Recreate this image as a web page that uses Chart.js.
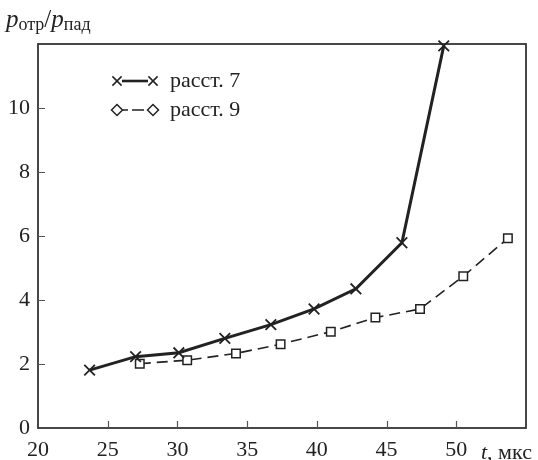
<!DOCTYPE html>
<html>
<head>
<meta charset="utf-8">
<script src="https://cdn.jsdelivr.net/npm/chart.js@4/dist/chart.umd.min.js"></script>
<style>
  html, body { margin: 0; padding: 0; background: #fff; }
  #box { width: 538px; height: 460px; }
</style>
</head>
<body>
<div id="box"><canvas id="chart"></canvas></div>
<script>
// t, мкс  и  p_отр/p_пад
const tRasst7 = [23.7, 27.0, 30.1, 33.4, 36.7, 39.8, 42.8, 46.1, 49.1];
const pRasst7 = [1.81, 2.23, 2.35, 2.80, 3.23, 3.72, 4.35, 5.79, 11.94];

const tRasst9 = [27.3, 30.7, 34.2, 37.4, 41.0, 44.2, 47.4, 50.5, 53.7];
const pRasst9 = [2.01, 2.12, 2.33, 2.62, 3.01, 3.45, 3.72, 4.74, 5.93];

const seriesNames = ["расст. 7", "расст. 9"];
const xTickValues = [20, 25, 30, 35, 40, 45, 50];
const yTickValues = [0, 2, 4, 6, 8, 10];

const INK = "#222";
const SERIF = '"Liberation Serif", "DejaVu Serif", serif';

const pairs = (xs, ys) => xs.map((x, i) => ({ x: x, y: ys[i] }));

// рамка, внутренние засечки, подписи осей и легенда
const decor = {
    id: "decor",
    beforeDatasetsDraw(chart) {
        const { ctx, chartArea: a, scales: { x, y } } = chart;
        ctx.save();
        ctx.strokeStyle = "#333";
        ctx.lineWidth = 1.8;
        ctx.strokeRect(a.left, a.top, a.right - a.left, a.bottom - a.top);

        ctx.lineWidth = 1.2;
        ctx.strokeStyle = "#555";
        ctx.beginPath();
        xTickValues.slice(1).forEach(v => {
            const px = Math.round(x.getPixelForValue(v)) + 0.5;
            ctx.moveTo(px, a.bottom);
            ctx.lineTo(px, a.bottom - 7);
        });
        yTickValues.slice(1).forEach(v => {
            const py = Math.round(y.getPixelForValue(v)) + 0.5;
            ctx.moveTo(a.left, py);
            ctx.lineTo(a.left + 7, py);
        });
        ctx.stroke();
        ctx.restore();
    },
    afterDraw(chart) {
        const { ctx } = chart;
        ctx.save();
        ctx.fillStyle = INK;
        ctx.textBaseline = "alphabetic";

        // p_отр / p_пад
        let cx = 6;
        ctx.font = "italic 25px " + SERIF;
        ctx.fillText("p", cx, 27);
        cx += ctx.measureText("p").width;
        ctx.font = "18px " + SERIF;
        ctx.fillText("отр", cx, 30);
        cx += ctx.measureText("отр").width;
        ctx.font = "25px " + SERIF;
        ctx.fillText("/", cx, 27);
        cx += ctx.measureText("/").width;
        ctx.font = "italic 25px " + SERIF;
        ctx.fillText("p", cx, 27);
        cx += ctx.measureText("p").width;
        ctx.font = "18px " + SERIF;
        ctx.fillText("пад", cx, 30);

        // t, мкс
        ctx.font = "italic 22px " + SERIF;
        ctx.fillText("t", 481, 459);
        const tw = ctx.measureText("t").width;
        ctx.font = "22px " + SERIF;
        ctx.fillText(", мкс", 481 + tw, 459);

        // легенда
        const rows = [
            { y: 81, style: "crossRot", dash: [], width: 2.6, r: 6.5 },
            { y: 110, style: "rectRot", dash: [6, 4, 12, 4], width: 1.5, r: 5.5 }
        ];
        rows.forEach((row, i) => {
            ctx.strokeStyle = INK;
            ctx.lineWidth = row.width;
            ctx.setLineDash(row.dash);
            ctx.beginPath();
            ctx.moveTo(122, row.y);
            ctx.lineTo(148, row.y);
            ctx.stroke();
            ctx.setLineDash([]);
            const opts = { pointStyle: row.style, radius: row.r, borderWidth: 1.5 };
            ctx.fillStyle = "#fff";
            ctx.lineWidth = 1.5;
            Chart.helpers.drawPoint(ctx, opts, 117, row.y);
            Chart.helpers.drawPoint(ctx, opts, 153, row.y);
            ctx.fillStyle = INK;
            ctx.font = "22px " + SERIF;
            ctx.fillText(seriesNames[i], 170, row.y + 6);
        });
        ctx.restore();
    }
};

new Chart(document.getElementById("chart"), {
    type: "line",
    data: {
        datasets: [
            {
                label: seriesNames[0],
                data: pairs(tRasst7, pRasst7),
                borderColor: INK,
                borderWidth: 3,
                pointStyle: "crossRot",
                pointRadius: 7.5,
                pointBorderWidth: 1.8,
                pointBorderColor: INK,
                pointBackgroundColor: "#fff",
                tension: 0,
                clip: false
            },
            {
                label: seriesNames[1],
                data: pairs(tRasst9, pRasst9),
                borderColor: INK,
                borderWidth: 1.6,
                borderDash: [11, 6],
                pointStyle: "rect",
                pointRadius: 6,
                pointBorderWidth: 1.5,
                pointBorderColor: INK,
                pointBackgroundColor: "#fff",
                tension: 0,
                clip: false
            }
        ]
    },
    options: {
        responsive: true,
        maintainAspectRatio: false,
        animation: false,
        devicePixelRatio: 1,
        layout: { padding: { top: 44, right: 12, left: 0, bottom: 0 } },
        plugins: {
            legend: { display: false },
            tooltip: { enabled: false }
        },
        scales: {
            x: {
                type: "linear",
                min: 20,
                max: 55,
                afterFit: s => { s.height = 32; },
                afterBuildTicks: s => { s.ticks = xTickValues.map(v => ({ value: v })); },
                grid: { display: false, drawTicks: false },
                border: { display: false },
                ticks: {
                    color: INK,
                    font: { family: SERIF, size: 22 },
                    padding: 9,
                    maxRotation: 0,
                    autoSkip: false
                }
            },
            y: {
                type: "linear",
                min: 0,
                max: 12,
                afterFit: s => { s.width = 38; },
                afterBuildTicks: s => { s.ticks = yTickValues.map(v => ({ value: v })); },
                grid: { display: false, drawTicks: false },
                border: { display: false },
                ticks: {
                    color: INK,
                    font: { family: SERIF, size: 22 },
                    padding: 8,
                    autoSkip: false
                }
            }
        }
    },
    plugins: [decor]
});
</script>
</body>
</html>
